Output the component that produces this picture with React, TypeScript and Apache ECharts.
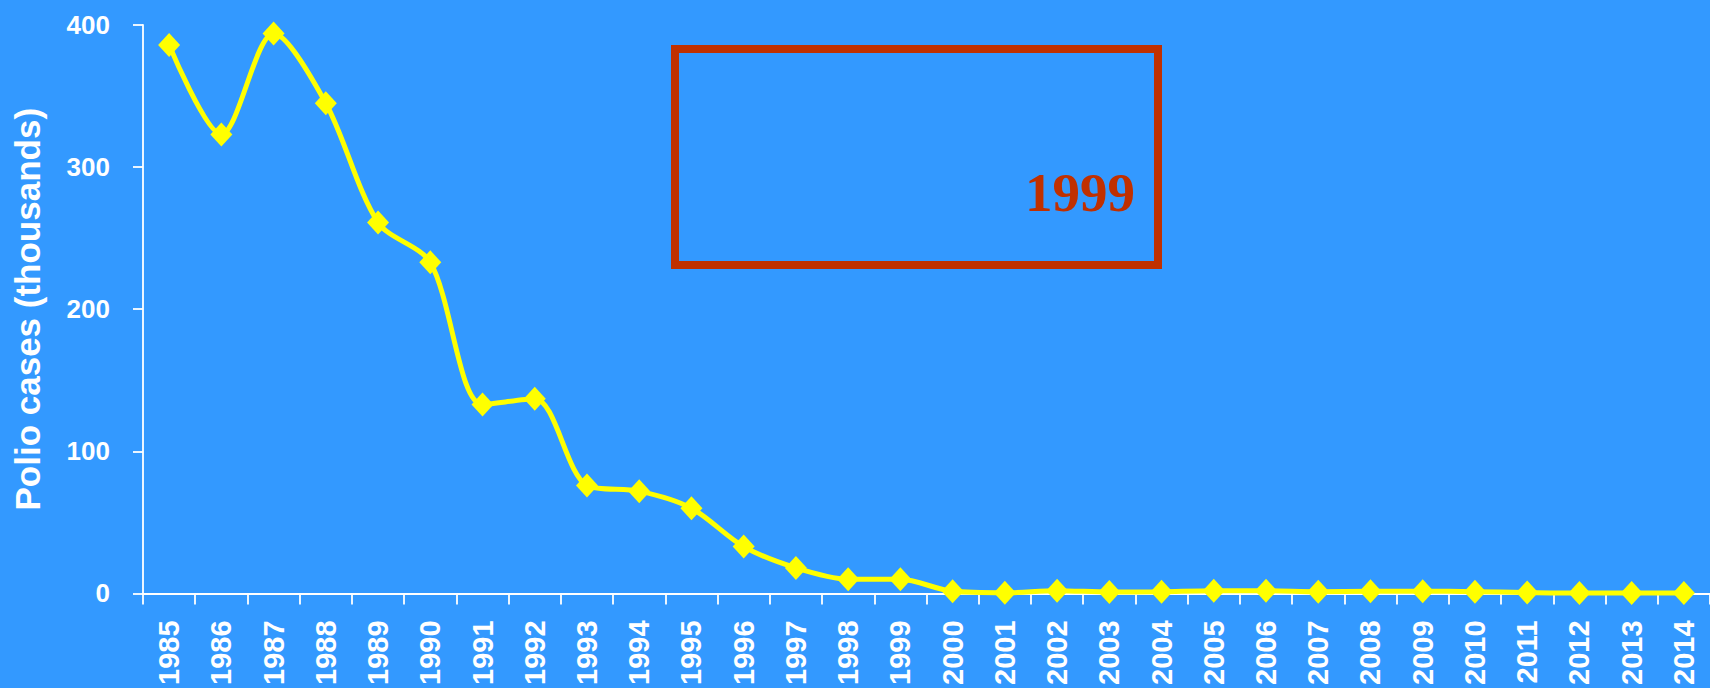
import { useEffect, useRef } from "react";
import * as echarts from "echarts";

const years = [
  "1985", "1986", "1987", "1988", "1989", "1990", "1991", "1992", "1993", "1994",
  "1995", "1996", "1997", "1998", "1999", "2000", "2001", "2002", "2003", "2004",
  "2005", "2006", "2007", "2008", "2009", "2010", "2011", "2012", "2013", "2014",
];
const cases = [
  386, 323, 394, 345, 261, 233, 133, 137, 76, 72,
  60, 33, 18, 10, 10, 1.5, 0.5, 2, 1, 1.3,
  2, 2, 1.3, 1.6, 1.6, 1.3, 0.7, 0.3, 0.4, 0.4,
];
const yMin = 0;
const yMax = 400;
const yStep = 100;
const yAxisTitle = "Polio cases (thousands)";
const boxLabel = "1999";

export default function App() {
  const ref = useRef<HTMLDivElement>(null);
  useEffect(() => {
    document.body.style.margin = "0";
    const chart = echarts.init(ref.current!, null, { renderer: "svg" });
    chart.setOption({
      animation: false,
      backgroundColor: "#3399FF",
      grid: { left: 143, right: 0, top: 25, bottom: 93 },
      xAxis: {
        type: "category",
        data: years,
        boundaryGap: true,
        axisLine: { lineStyle: { color: "#FFFFFF", width: 1.8 } },
        axisTick: { show: true, length: 11, lineStyle: { color: "#FFFFFF", width: 1.8 }, alignWithLabel: false },
        axisLabel: {
          rotate: 90,
          interval: 0,
          margin: 27,
          color: "#FFFFFF",
          fontFamily: "Liberation Sans, Arial, sans-serif",
          fontWeight: "bold",
          fontSize: 29,
        },
      },
      yAxis: {
        type: "value",
        min: yMin,
        max: yMax,
        interval: yStep,
        name: yAxisTitle,
        nameLocation: "middle",
        nameGap: 98,
        nameTextStyle: {
          color: "#FFFFFF",
          fontFamily: "Liberation Sans, Arial, sans-serif",
          fontWeight: "bold",
          fontSize: 35,
        },
        axisLine: { show: true, lineStyle: { color: "#FFFFFF", width: 1.8 } },
        axisTick: { show: true, length: 10, lineStyle: { color: "#FFFFFF", width: 1.8 } },
        splitLine: { show: false },
        axisLabel: {
          margin: 33,
          color: "#FFFFFF",
          fontFamily: "Liberation Sans, Arial, sans-serif",
          fontWeight: "bold",
          fontSize: 26,
        },
      },
      series: [
        {
          type: "line",
          data: cases,
          smooth: 0.3,
          symbol: "diamond",
          symbolSize: [22, 24],
          itemStyle: { color: "#FFFF00" },
          lineStyle: { color: "#FFFF00", width: 5 },
          z: 3,
        },
      ],
      graphic: [
        {
          type: "rect",
          shape: { x: 675, y: 49, width: 483, height: 216 },
          style: { fill: "none", stroke: "#C03000", lineWidth: 8 },
          z: 10,
        },
        {
          type: "text",
          x: 1135,
          y: 192,
          style: {
            text: boxLabel,
            fill: "#C03000",
            font: "bold 55px 'Liberation Serif', 'Times New Roman', serif",
            align: "right",
            verticalAlign: "middle",
          },
          z: 10,
        },
      ],
    });
    return () => chart.dispose();
  }, []);
  return <div ref={ref} style={{ position: "fixed", left: 0, top: 0, width: 1710, height: 688 }} />;
}
